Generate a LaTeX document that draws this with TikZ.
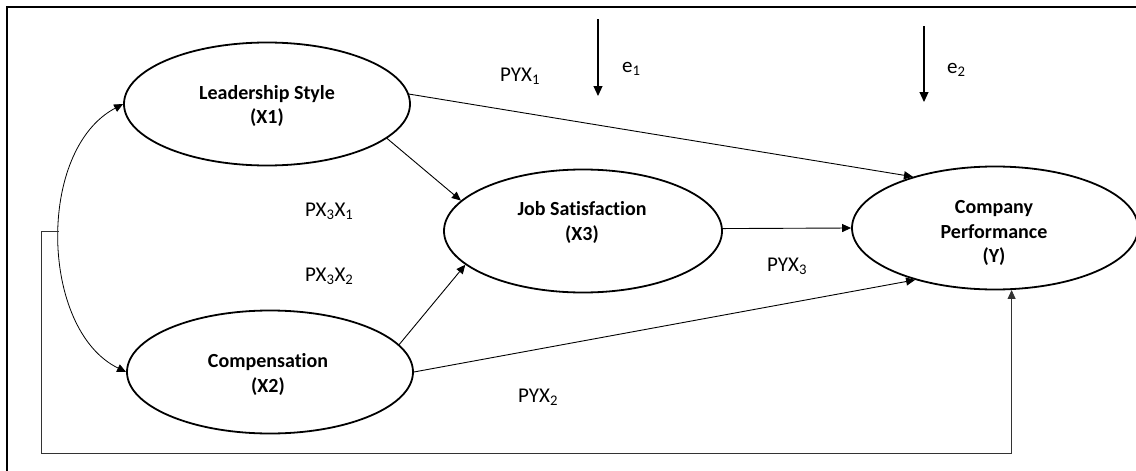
\documentclass[tikz,border=0pt]{standalone}
\usepackage{fontspec}
\setmainfont{Carlito}[Ligatures={NoCommon,NoRare,NoDiscretionary}]
\usetikzlibrary{arrows.meta,shapes.geometric}
\begin{document}
\begin{tikzpicture}[x=1pt,y=-1pt,
  latent/.style={draw, ellipse, line width=1.8pt, fill=white, inner sep=0pt},
  ltext/.style={align=center, inner sep=0pt, font=\bfseries\fontsize{20}{24.5}\selectfont},
  coef/.style={anchor=base west, inner sep=0pt, font=\fontsize{21}{25}\selectfont},
  tip/.style={-{Triangle[length=9pt,width=8pt]}},
  pathline/.style={line width=0.9pt, tip},
  earrow/.style={line width=1.1pt, -{Triangle[length=10pt,width=9pt]}}
]
\useasboundingbox (0,0) rectangle (1136,471);
\draw[line width=1.5pt] (7,471) -- (7,7) -- (1136,7);

% latent variables
\node[latent, minimum width=286pt, minimum height=123pt] (X1) at (267,104) {};
\node[latent, minimum width=286pt, minimum height=123pt] (X2) at (270,372) {};
\node[latent, minimum width=278pt, minimum height=123pt] (X3) at (583,231) {};
\node[latent, minimum width=286pt, minimum height=123pt] (Y) at (995,228) {};

\node[ltext] (X1t) at (267,106) {Leadership Style\\(X1)};
\node[ltext] (X2t) at (268,374.5) {Compensation\\(X2)};
\node[ltext] (X3t) at (582,222.5) {Job Satisfaction\\(X3)};
\node[ltext] (Yt) at (994,233) {Company\\Performance\\(Y)};

% paths
\draw[pathline] (X1.4.8) -- (Y.148.4);
\draw[pathline] (X1.-16.3) -- (X3.166.9);
\draw[pathline] (X2.12.2) -- (X3.196.7);
\draw[pathline] (X2.0) -- (Y.213.4);
\draw[pathline] (X3.1.6) -- (Y.west);

% correlation curve
\draw[line width=0.8pt, {Triangle[length=9pt,width=8pt]}-{Triangle[length=9pt,width=8pt]}]
  (X1.west) .. controls (36,150) and (40,330) .. (X2.west);

% feedback line
\coordinate (J) at (59,231);
\coordinate (FB) at (41,453);
\draw[line width=0.9pt, draw=black!80, tip] (J) -| (FB) -| (Y.-75.5);

% error terms
\coordinate (e1a) at (598,19);
\coordinate (e1b) at (598,96);
\coordinate (e2a) at (924,26);
\coordinate (e2b) at (924,102);
\draw[earrow] (e1a) -- (e1b);
\draw[earrow] (e2a) -- (e2b);
\node[coef] (e1) at (622,72) {e\textsubscript{1}};
\node[coef] (e2) at (947,73) {e\textsubscript{2}};

% coefficients
\node[coef] (pyx1) at (500,81) {PYX\textsubscript{1}};
\node[coef] (px3x1) at (305,216) {PX\textsubscript{3}X\textsubscript{1}};
\node[coef] (px3x2) at (305,281) {PX\textsubscript{3}X\textsubscript{2}};
\node[coef] (pyx3) at (767,271) {PYX\textsubscript{3}};
\node[coef] (pyx2) at (518,402) {PYX\textsubscript{2}};
\end{tikzpicture}
\end{document}
